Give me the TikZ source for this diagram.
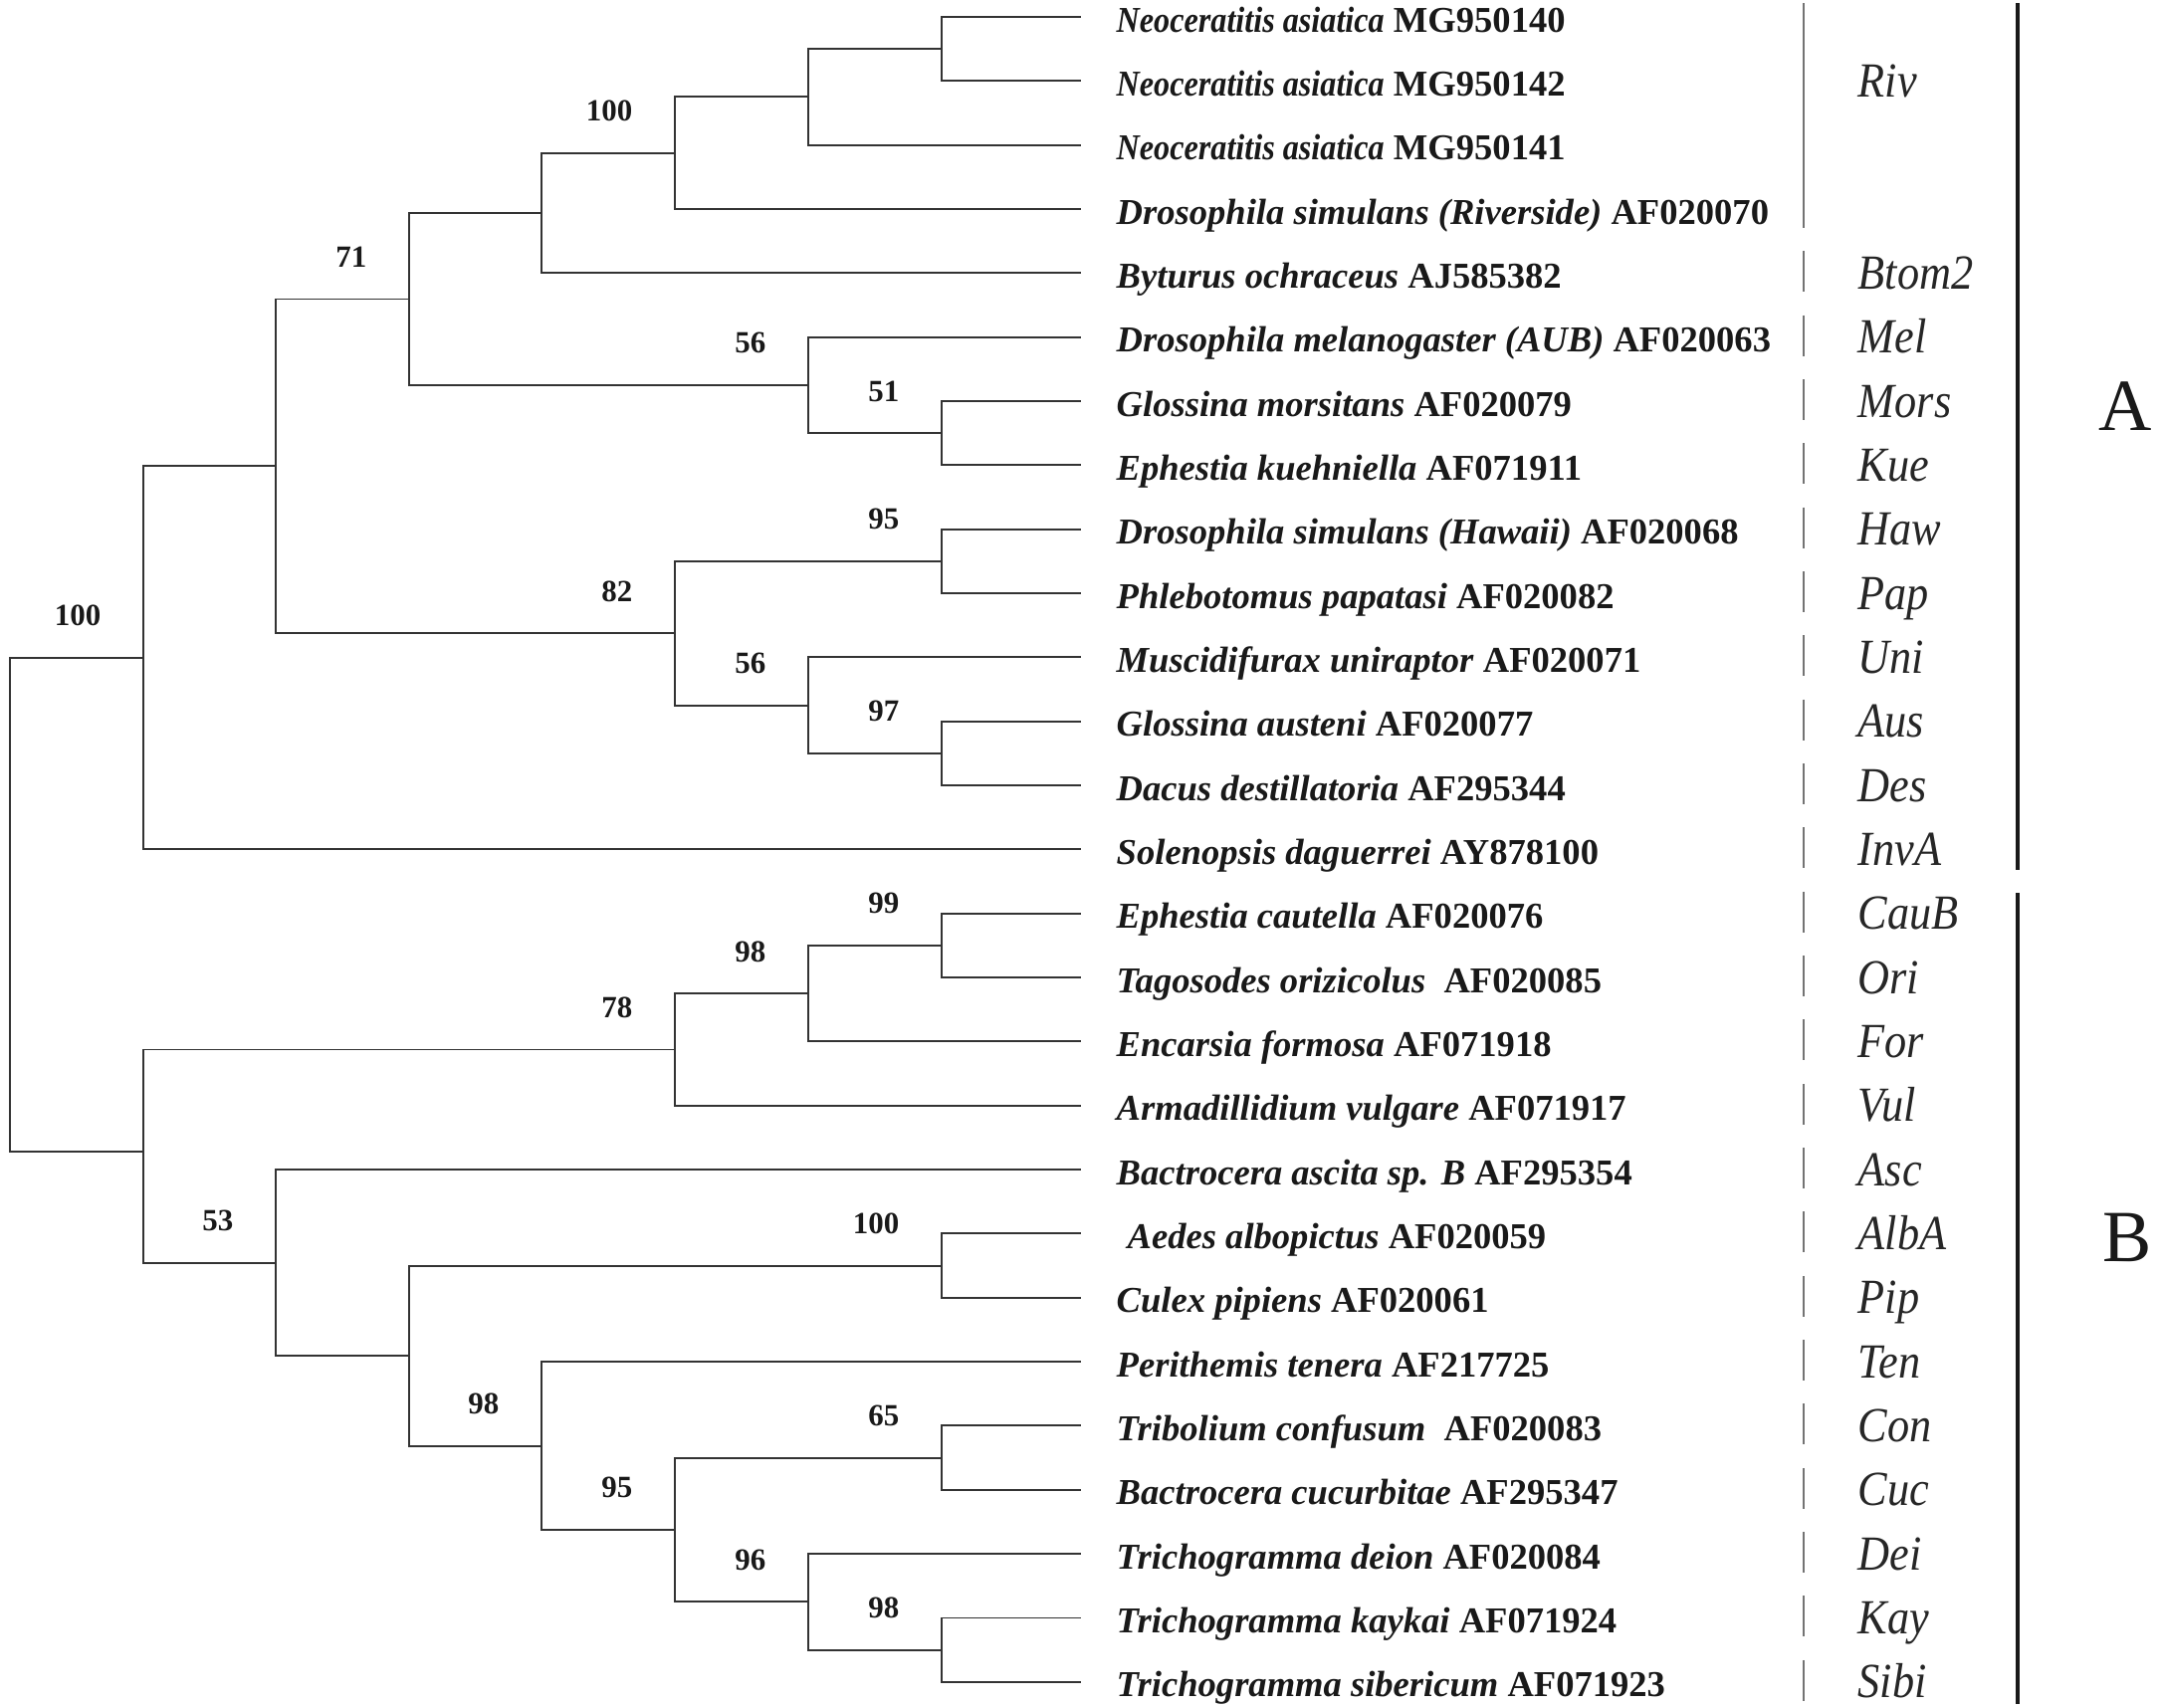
\documentclass[tikz,border=0pt]{standalone}
\usepackage{fontspec}
\usepackage{graphicx}
\setmainfont{Liberation Serif}
\newcommand{\taxon}[2]{\textbf{\textit{#1}} \textbf{#2}}
\newcommand{\narrowsp}[1]{\scalebox{0.88}[1]{#1}}

\begin{document}
\begin{tikzpicture}[x=0.01cm, y=-0.01cm,
  branch/.style={draw=black!80, line width=0.55pt},
  leaf/.style={inner sep=0pt, anchor=base west, font=\fontsize{10.4}{12}\selectfont, text=black!90},
  boot/.style={inner sep=0pt, anchor=base east, font=\fontsize{8.8}{10}\selectfont\bfseries, text=black!90},
  grp/.style={inner sep=0pt, anchor=base west, font=\fontsize{14}{16}\selectfont\itshape, text=black!85},
  sep/.style={draw=black!55, line width=0.35pt},
  bar/.style={draw=black!90, line width=1.2pt},
  clade/.style={inner sep=0pt, font=\fontsize{21}{24}\selectfont, text=black!90}]
\useasboundingbox (0,0) rectangle (2170,1715);

\begin{scope}[y=-0.643cm, yshift=-0.17cm]
\foreach \i/\sp/\acc in {0/\narrowsp{Neoceratitis asiatica}/MG950140, 1/\narrowsp{Neoceratitis asiatica}/MG950142,
  2/\narrowsp{Neoceratitis asiatica}/MG950141, 3/Drosophila simulans (Riverside)/AF020070,
  4/Byturus ochraceus/AJ585382, 5/Drosophila melanogaster (AUB)/AF020063,
  6/Glossina morsitans/AF020079, 7/Ephestia kuehniella/AF071911,
  8/Drosophila simulans (Hawaii)/AF020068, 9/Phlebotomus papatasi/AF020082,
  10/Muscidifurax uniraptor/AF020071, 11/Glossina austeni/AF020077,
  12/Dacus destillatoria/AF295344, 13/Solenopsis daguerrei/AY878100,
  14/Ephestia cautella/AF020076, 15/Tagosodes orizicolus/\ AF020085,
  16/Encarsia formosa/AF071918, 17/Armadillidium vulgare/AF071917,
  18/Bactrocera ascita sp. B/AF295354, 19/\hspace{0.3em}Aedes albopictus/AF020059,
  20/Culex pipiens/AF020061, 21/Perithemis tenera/AF217725,
  22/Tribolium confusum/\ AF020083, 23/Bactrocera cucurbitae/AF295347,
  24/Trichogramma deion/AF020084, 25/Trichogramma kaykai/AF071924,
  26/Trichogramma sibericum/AF071923}
{
  \coordinate (tip\i) at (1086,\i);
  \node[leaf, yshift=-0.15cm] (sp\i) at (1121,\i) {\taxon{\sp}{\acc}};
}

\coordinate (root) at (10,13.86);
\coordinate (a7) at (144,10.008);
\coordinate (a6) at (277,7.016);
\coordinate (a5) at (411,4.406);
\coordinate (a4) at (544,3.0625);
\coordinate (a3) at (678,2.125);
\coordinate (a2) at (812,1.25);
\coordinate (a1) at (946,0.5);
\coordinate (b2) at (812,5.75);
\coordinate (b1) at (946,6.5);
\coordinate (c4) at (678,9.625);
\coordinate (c1) at (946,8.5);
\coordinate (c3) at (812,10.75);
\coordinate (c2) at (946,11.5);
\coordinate (d4) at (144,17.72);
\coordinate (d3) at (678,16.125);
\coordinate (d2) at (812,15.25);
\coordinate (d1) at (946,14.5);
\coordinate (f8) at (277,19.453);
\coordinate (f7) at (411,20.906);
\coordinate (f1) at (946,19.5);
\coordinate (f6) at (544,22.3125);
\coordinate (f5) at (678,23.625);
\coordinate (f2) at (946,22.5);
\coordinate (f4) at (812,24.75);
\coordinate (f3) at (946,25.5);

\foreach \p/\c in {root/a7, root/d4, a7/a6, a7/tip13, a6/a5, a6/c4, a5/a4, a5/b2,
  a4/a3, a4/tip4, a3/a2, a3/tip3, a2/a1, a2/tip2, a1/tip0, a1/tip1,
  b2/tip5, b2/b1, b1/tip6, b1/tip7, c4/c1, c4/c3, c1/tip8, c1/tip9,
  c3/tip10, c3/c2, c2/tip11, c2/tip12, d4/d3, d4/f8, d3/d2, d3/tip17,
  d2/d1, d2/tip16, d1/tip14, d1/tip15, f8/tip18, f8/f7, f7/f1, f7/f6,
  f1/tip19, f1/tip20, f6/tip21, f6/f5, f5/f2, f5/f4, f2/tip22, f2/tip23,
  f4/tip24, f4/f3, f3/tip25, f3/tip26}
  \draw[branch] (\p) |- (\c);

\foreach \n/\v in {a3/100, a5/71, b2/56, b1/51, c1/95, c4/82, c3/56, c2/97, a7/100,
  d1/99, d2/98, d3/78, f1/100, f2/65, f3/98, f4/96, f5/95, f6/98, f8/53}
  \node[boot, xshift=-0.42cm, yshift=0.32cm] (bs\n) at (\n) {\v};

\draw[sep] (1812,0) ++(0,0.14cm) -- (1812,3) -- ++(0,-0.19cm);
\foreach \i in {4,...,26}
  \draw[sep] (1812,\i) ++(0,0.22cm) -- ++(0,-0.41cm);

\foreach \i/\g in {1/Riv, 4/Btom2, 5/Mel, 6/Mors, 7/Kue, 8/Haw, 9/Pap, 10/Uni,
  11/Aus, 12/Des, 13/InvA, 14/CauB, 15/Ori, 16/For, 17/Vul, 18/Asc, 19/AlbA,
  20/Pip, 21/Ten, 22/Con, 23/Cuc, 24/Dei, 25/Kay, 26/Sibi}
  \node[grp, yshift=-0.16cm] (grp\i) at (1866,\i) {\scalebox{0.9}[1]{\g}};
\end{scope}

\draw[bar] (2027,3) -- (2027,874);
\draw[bar] (2027,897) -- (2027,1712);
\node[clade] (cA) at (2135,408) {A};
\node[clade] (cB) at (2137,1243) {B};
\end{tikzpicture}
\end{document}
